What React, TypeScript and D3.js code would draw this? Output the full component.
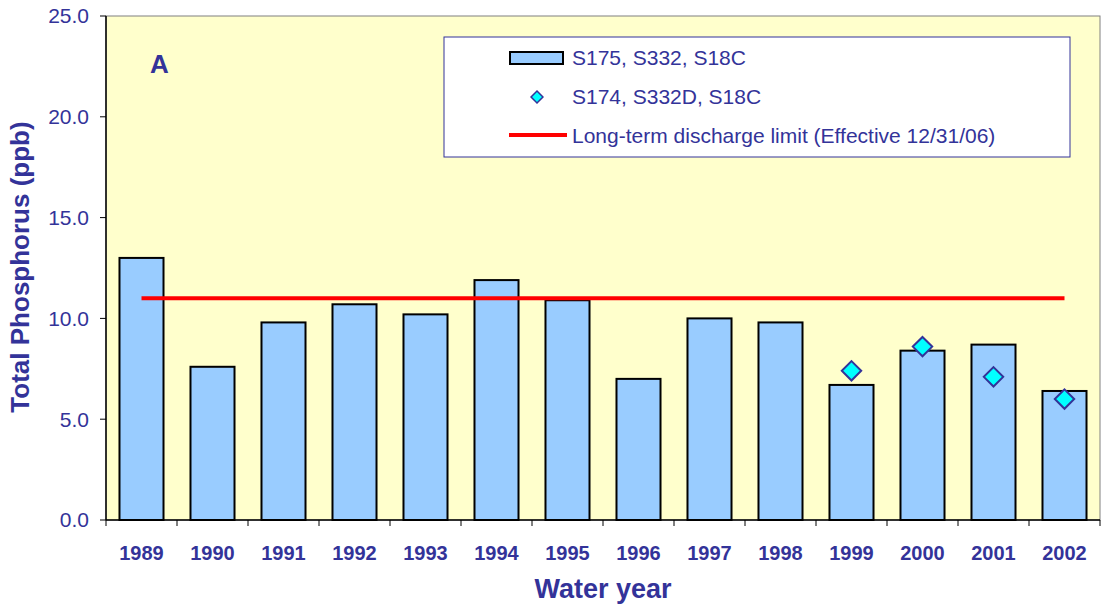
import React from "react";
import * as d3 from "d3";

const years = ["1989", "1990", "1991", "1992", "1993", "1994", "1995", "1996", "1997", "1998", "1999", "2000", "2001", "2002"];
const barValues = [13.0, 7.6, 9.8, 10.7, 10.2, 11.9, 10.9, 7.0, 10.0, 9.8, 6.7, 8.4, 8.7, 6.4];
const diamondYears = ["1999", "2000", "2001", "2002"];
const diamondValues = [7.4, 8.6, 7.1, 6.0];
const limitValue = 11;
const yTicks = [0, 5, 10, 15, 20, 25];

const W = 1105;
const H = 613;
const margin = { top: 16, right: 5, bottom: 93, left: 106 };
const textColor = "#333399";
const font = "'Liberation Sans', Arial, sans-serif";

export default function App() {
  const innerW = W - margin.left - margin.right;
  const innerH = H - margin.top - margin.bottom;

  const x = d3.scaleBand().domain(years).range([0, innerW]).paddingInner(0.38).paddingOuter(0.19);
  const y = d3.scaleLinear().domain([0, 25]).range([innerH, 0]);
  const cx = (yr: string) => (x(yr) as number) + x.bandwidth() / 2;
  const step = x.step();

  const limitLine = d3.line<string>().x((d) => cx(d)).y(() => y(limitValue));
  const diamond = d3.symbol().type(d3.symbolDiamond2).size(240);

  return (
    <svg width={W} height={H} style={{ position: "absolute", left: 0, top: 0, fontFamily: font }}>
      <rect width={W} height={H} fill="#ffffff" />
      <g transform={`translate(${margin.left},${margin.top})`}>
        <rect width={innerW} height={innerH} fill="#FFFFCC" stroke="#808080" strokeWidth={1} />
        {/* y axis */}
        <line x1={0} x2={0} y1={0} y2={innerH} stroke="#000" strokeWidth={1.5} />
        {yTicks.map((t) => (
          <g key={t} transform={`translate(0,${y(t)})`}>
            <line x1={-6} x2={0} stroke="#000" />
            <text x={-17} dy="0.35em" textAnchor="end" fontSize={21} fill={textColor}>
              {t.toFixed(1)}
            </text>
          </g>
        ))}
        {/* bars */}
        {years.map((yr, i) => (
          <rect
            key={yr}
            x={x(yr)}
            y={y(barValues[i])}
            width={x.bandwidth()}
            height={innerH - y(barValues[i])}
            fill="#99CCFF"
            stroke="#000"
            strokeWidth={2}
          />
        ))}
        {/* limit line */}
        <path d={limitLine(years) as string} stroke="#FF0000" strokeWidth={4} fill="none" />
        {/* diamonds */}
        {diamondYears.map((yr, i) => (
          <path
            key={yr}
            transform={`translate(${cx(yr)},${y(diamondValues[i])})`}
            d={diamond() as string}
            fill="#00FFFF"
            stroke={textColor}
            strokeWidth={2}
          />
        ))}
        {/* x axis */}
        <line x1={0} x2={innerW} y1={innerH} y2={innerH} stroke="#000" strokeWidth={1.5} />
        {d3.range(years.length + 1).map((i) => (
          <line key={i} x1={i * step} x2={i * step} y1={innerH} y2={innerH + 6} stroke="#000" />
        ))}
        {years.map((yr) => (
          <text key={yr} x={cx(yr)} y={innerH + 40} textAnchor="middle" fontSize={20} fontWeight="bold" fill={textColor}>
            {yr}
          </text>
        ))}
        <text x={44} y={57} fontSize={26} fontWeight="bold" fill={textColor}>
          A
        </text>
        {/* legend */}
        <g transform={`translate(${444 - margin.left},${37 - margin.top})`}>
          <rect width={626} height={120} fill="#ffffff" stroke={textColor} strokeWidth={1} />
          <rect x={66} y={15} width={53} height={12} fill="#99CCFF" stroke="#000" strokeWidth={2} />
          <text x={128} y={21} dy="0.35em" fontSize={21} fill={textColor}>
            S175, S332, S18C
          </text>
          <path transform="translate(93,60)" d={d3.symbol().type(d3.symbolDiamond2).size(90)() as string} fill="#00FFFF" stroke={textColor} strokeWidth={1.5} />
          <text x={128} y={60} dy="0.35em" fontSize={21} fill={textColor}>
            S174, S332D, S18C
          </text>
          <line x1={65} x2={123} y1={98} y2={98} stroke="#FF0000" strokeWidth={4} />
          <text x={128} y={99} dy="0.35em" fontSize={21} fill={textColor}>
            Long-term discharge limit (Effective 12/31/06)
          </text>
        </g>
      </g>
      <text x={margin.left + innerW / 2} y={598} textAnchor="middle" fontSize={27} fontWeight="bold" fill={textColor}>
        Water year
      </text>
      <text
        transform={`translate(29,267) rotate(-90)`}
        textAnchor="middle"
        fontSize={26}
        fontWeight="bold"
        fill={textColor}
      >
        Total Phosphorus (ppb)
      </text>
    </svg>
  );
}
